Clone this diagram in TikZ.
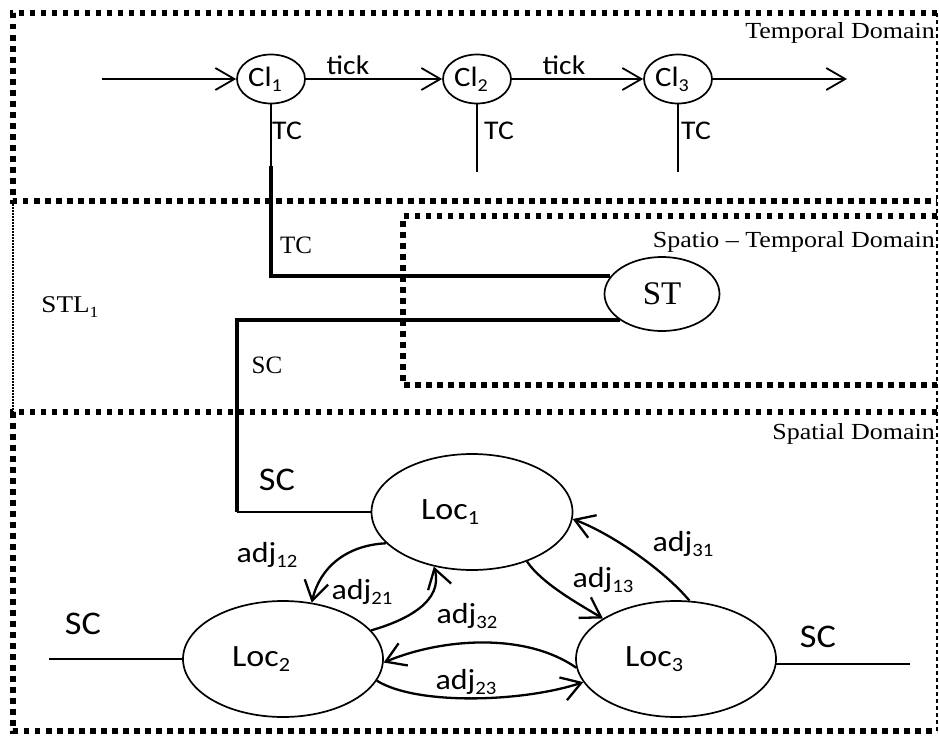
\documentclass[tikz,border=0pt]{standalone}
\usepackage{fontspec}
\setmainfont{Liberation Serif}
\newfontfamily\calfont[FakeStretch=1.1]{Carlito}
\newfontfamily\tnrwide[FakeStretch=1.13]{Liberation Serif}
\newfontfamily\tnrfont{Liberation Serif}
\usetikzlibrary{arrows.meta,shapes.geometric}
\newcommand\sbs[1]{\raisebox{-0.18em}{\scalebox{0.65}{#1}}}
\newcommand\fs[1]{\fontsize{#1}{#1}\selectfont}
\tikzset{
  dom/.style={line width=5.5pt, dash pattern=on 5.5pt off 5.5pt},
  thindash/.style={line width=1.2pt, dash pattern=on 4pt off 3pt},
  thindot/.style={line width=1.5pt, dash pattern=on 1.5pt off 1.5pt},
  ell/.style={draw, ellipse, line width=1.7pt, inner sep=0pt},
  thinline/.style={line width=1.7pt},
  heavy/.style={line width=4pt},
  clarr/.style={line width=1.8pt, -{Straight Barb[length=19pt,width=22pt]}},
  adjarr/.style={line width=2.3pt, -{Straight Barb[length=19pt,width=24pt]}},
  sans/.style={font=\calfont\fs{#1}, inner sep=0pt},
  serif/.style={font=\tnrfont\fs{#1}, inner sep=0pt},
  domlabel/.style={font=\tnrwide\fs{23}, inner sep=0pt, anchor=base east}
}
\begin{document}
\begin{tikzpicture}[x=1pt,y=-1pt]
\useasboundingbox (0,0) rectangle (939,736);
% domain boxes
\draw[dom] (937,13) -- (13,13) -- (13,201) -- (937,201);
\draw[dom] (937,216) -- (403,216) -- (403,385) -- (937,385);
\draw[dom] (937,412) -- (13,412) -- (13,731) -- (937,731);
\draw[thindash] (937,13) -- (937,731);
\draw[thindot] (13,201) -- (13,412);
\node[domlabel] (dT) at (935,38) {Temporal Domain};
\node[domlabel] (dST) at (935,247) {Spatio – Temporal Domain};
\node[domlabel] (dS) at (935,439) {Spatial Domain};
% clocks
\node[ell, minimum width=68pt, minimum height=49pt, font=\calfont\fs{28}] (Cl1) at (271,79) {Cl\sbs{1}\kern12pt};
\node[ell, minimum width=68pt, minimum height=49pt, font=\calfont\fs{28}] (Cl2) at (477,79) {Cl\sbs{2}\kern12pt};
\node[ell, minimum width=68pt, minimum height=49pt, font=\calfont\fs{28}] (Cl3) at (678,79) {Cl\sbs{3}\kern12pt};
\coordinate (cin) at (102,79);
\coordinate (cout) at (847,79);
\draw[clarr] (cin) -- (Cl1.west);
\draw[clarr] (Cl1.east) -- (Cl2.west);
\draw[clarr] (Cl2.east) -- (Cl3.west);
\draw[clarr] (Cl3.east) -- (cout);
\node[sans=27] (tk1) at (348,65) {tick};
\node[sans=27] (tk2) at (564,65) {tick};
\coordinate (t1) at (271,170);
\coordinate (t2) at (477,172);
\coordinate (t3) at (678,172);
\draw[thinline] (Cl1.south) -- (t1);
\draw[thinline] (Cl2.south) -- (t2);
\draw[thinline] (Cl3.south) -- (t3);
\node[sans=27] (tc1) at (287,131) {TC};
\node[sans=27] (tc2) at (499,131) {TC};
\node[sans=27] (tc3) at (696,131) {TC};
% spatio-temporal
\node[ell, minimum width=115pt, minimum height=74pt, font=\tnrfont\fs{33}] (ST) at (662,294) {ST};
\coordinate (t1b) at (271,166);
\draw[heavy] (t1b) |- (ST.161.6);
\coordinate (sc) at (237,512);
\draw[heavy] (ST.212.4) -| (sc);
\node[serif=25] (tcs) at (296,245) {TC};
\node[serif=25] (scs) at (267,365) {SC};
\node[font=\tnrwide\fs{24}, inner sep=0pt] (stl) at (70,307) {STL\sbs{1}};
% spatial
\node[ell, minimum width=201pt, minimum height=116pt, font=\calfont\fs{31}] (Loc1) at (472,512) {Loc\sbs{1}\kern44pt};
\node[ell, minimum width=200pt, minimum height=116pt, font=\calfont\fs{31}] (Loc2) at (283,659) {Loc\sbs{2}\kern44pt};
\node[ell, minimum width=200pt, minimum height=116pt, font=\calfont\fs{31}] (Loc3) at (676,659) {Loc\sbs{3}\kern44pt};
\draw[thinline] (sc) -- (Loc1.west);
\coordinate (scL) at (49,659);
\draw[thinline] (scL) -- (Loc2.west);
\coordinate (scR) at (910,664);
\draw[thinline] (Loc3.-3) -- (Loc3.-3 -| scR);
\node[sans=33] (sc1) at (277,480) {SC};
\node[sans=33] (sc2) at (83,624) {SC};
\node[sans=33] (sc3) at (818,637) {SC};
% adjacency
\draw[adjarr] (Loc1.200) .. controls +(-40,2) and +(8,-35) .. (Loc2.63);
\draw[adjarr] (Loc2.18) .. controls +(35,-10) and +(10,35) .. (Loc1.235);
\draw[adjarr] (Loc1.-42) .. controls +(15,22) and +(-25,-15) .. (Loc3.151);
\draw[adjarr] (Loc3.77) .. controls +(-25,-30) and +(40,15) .. (Loc1.-4);
\draw[adjarr] (Loc3.185) .. controls +(-50,-35) and +(60,-25) .. (Loc2.-2);
\draw[adjarr] (Loc2.-13) .. controls +(40,25) and +(-60,20) .. (Loc3.194);
\node[sans=29] (a12) at (267,555) {adj\sbs{12}};
\node[sans=29] (a21) at (362,592) {adj\sbs{21}};
\node[sans=29] (a13) at (603,580) {adj\sbs{13}};
\node[sans=29] (a31) at (683,544) {adj\sbs{31}};
\node[sans=29] (a32) at (467,616) {adj\sbs{32}};
\node[sans=29] (a23) at (466,682) {adj\sbs{23}};
\end{tikzpicture}
\end{document}
